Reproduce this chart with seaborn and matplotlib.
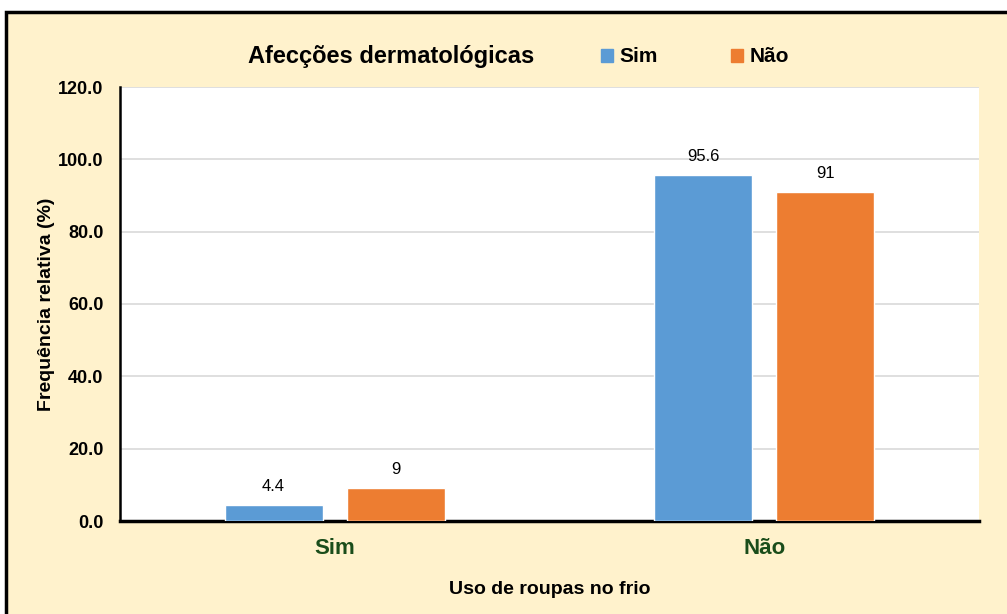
import pandas as pd
import matplotlib.pyplot as plt
import matplotlib.patches as mpatches
import seaborn as sns

categorias = ['Sim', 'Não']
afeccao_sim = [4.4, 95.6]
afeccao_nao = [9, 91]
rotulos_sim = ['4.4', '95.6']
rotulos_nao = ['9', '91']
yticks = [0, 20, 40, 60, 80, 100, 120]

df = pd.DataFrame({
    'Uso': categorias * 2,
    'Afeccao': ['Sim'] * 2 + ['Não'] * 2,
    'Freq': afeccao_sim + afeccao_nao,
})

sns.set_theme(style="white")
plt.rcParams['font.family'] = ['Liberation Sans', 'DejaVu Sans']
plt.rcParams['text.color'] = 'black'
plt.rcParams['axes.labelcolor'] = 'black'
plt.rcParams['ytick.color'] = 'black'

fig = plt.figure(figsize=(10.07, 6.14), dpi=100)
fig.patch.set_facecolor('white')
# moldura do gráfico
fig.patches.append(mpatches.Rectangle((6 / 1007, -0.05), 1.1, (614 - 12) / 614 + 0.05,
                                      transform=fig.transFigure, facecolor='#FFF2CC',
                                      edgecolor='black', linewidth=2.5, zorder=-1))

ax = fig.add_axes([120 / 1007, 93 / 614, 859 / 1007, 434 / 614])
ax.set_facecolor('white')

cores = {'Sim': '#5B9BD5', 'Não': '#ED7D31'}
sns.barplot(data=df, x='Uso', y='Freq', hue='Afeccao', hue_order=['Sim', 'Não'],
            order=categorias, palette=cores, width=0.57, gap=0.2, ax=ax,
            saturation=1, legend=False, zorder=3)

for cont, labs in zip(ax.containers, [rotulos_sim, rotulos_nao]):
    ax.bar_label(cont, labels=labs, padding=8, fontsize=12, color='black')

ax.set_xlim(-0.5, 1.5)
ax.set_ylim(0, 120)
ax.set_yticks(yticks)
ax.set_yticklabels([f'{v:.1f}' for v in yticks], fontsize=13, fontweight='bold')
ax.tick_params(axis='y', length=0, pad=12)
ax.tick_params(axis='x', length=0, pad=12)
ax.set_xticks(range(len(categorias)))
ax.set_xticklabels(categorias, fontsize=16, fontweight='bold', color='#1A4D1A')
ax.yaxis.grid(True, color='#D9D9D9', linewidth=1.2, zorder=0)
ax.set_axisbelow(True)

for s in ['top', 'right']:
    ax.spines[s].set_visible(False)
ax.spines['left'].set_color('black')
ax.spines['left'].set_linewidth(1.8)
ax.spines['bottom'].set_color('black')
ax.spines['bottom'].set_linewidth(2.5)

ax.set_xlabel('Uso de roupas no frio', fontsize=14, fontweight='bold', labelpad=16)
ax.set_ylabel('Frequência relativa (%)', fontsize=14, fontweight='bold', labelpad=2)

fig.text(391 / 1007, 1 - 56 / 614, 'Afecções dermatológicas', fontsize=17,
         ha='center', va='center', fontweight='bold')
handles = [mpatches.Patch(color=cores[k]) for k in ['Sim', 'Não']]
fig.legend(handles, ['Sim', 'Não'], loc='center', bbox_to_anchor=(695 / 1007, 1 - 57 / 614),
           ncol=2, frameon=False, handlelength=0.6, handleheight=0.6, handletextpad=0.3,
           columnspacing=3.5, prop={'size': 15, 'weight': 'bold'})

fig.savefig('out.png', dpi=100)
